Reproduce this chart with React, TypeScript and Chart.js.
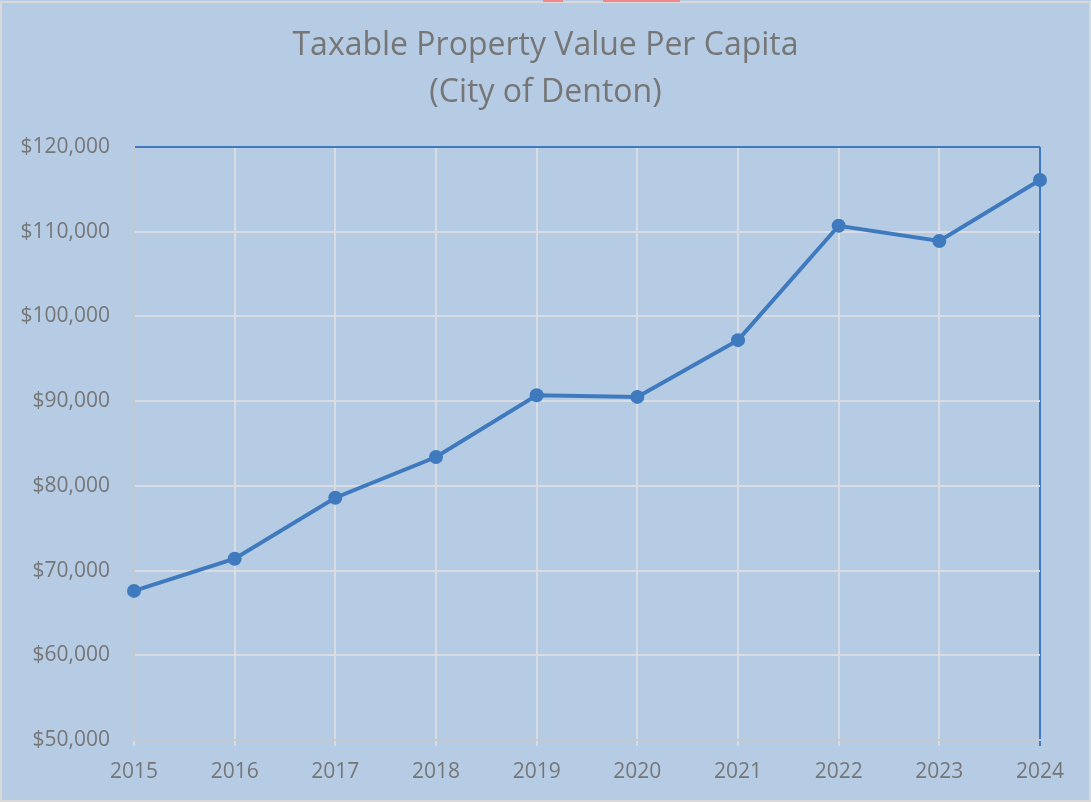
import React, { useEffect, useRef } from "react";
import { Chart, registerables } from "chart.js";

Chart.register(...registerables);

const years = ["2015", "2016", "2017", "2018", "2019", "2020", "2021", "2022", "2023", "2024"];
const valuePerCapita = [67600, 71400, 78600, 83400, 90700, 90500, 97200, 110700, 108900, 116100];
const titleLines = ["Taxable Property Value Per Capita", "(City of Denton)"];

const BG = "#b6cce4";
const LINE = "#3f7abf";
const GRID = "#d9dde3";
const TEXT = "#767676";
const FONT = "'Open Sans', 'Noto Sans', sans-serif";

const bgPlugin = {
  id: "bgPlugin",
  beforeDraw(chart: any) {
    const { ctx, width, height } = chart;
    ctx.save();
    ctx.fillStyle = BG;
    ctx.fillRect(0, 0, width, height);
    ctx.strokeStyle = "#d9d9d9";
    ctx.lineWidth = 2;
    ctx.strokeRect(1, 2, width - 2, height - 3);
    ctx.fillStyle = "#f08a8a";
    ctx.fillRect(543, 0, 20, 2);
    ctx.fillRect(603, 0, 77, 2);
    ctx.restore();
  },
};

const titlePlugin = {
  id: "titlePlugin",
  afterDraw(chart: any) {
    const { ctx, width } = chart;
    ctx.save();
    ctx.fillStyle = TEXT;
    ctx.font = `32px ${FONT}`;
    ctx.textAlign = "center";
    ctx.textBaseline = "middle";
    ctx.fillText(titleLines[0], width / 2, 46);
    ctx.fillText(titleLines[1], width / 2, 93);
    ctx.restore();
  },
};

export default function App() {
  const ref = useRef<HTMLCanvasElement | null>(null);
  useEffect(() => {
    document.body.style.margin = "0";
    const chart = new Chart(ref.current as HTMLCanvasElement, {
      type: "line",
      data: {
        labels: years,
        datasets: [
          {
            data: valuePerCapita,
            borderColor: LINE,
            backgroundColor: LINE,
            borderWidth: 4,
            pointRadius: 7,
            pointHoverRadius: 7,
            pointBackgroundColor: LINE,
            pointBorderWidth: 0,
            tension: 0,
          },
        ],
      },
      options: {
        responsive: false,
        animation: false,
        layout: { padding: { left: 0, right: 51, top: 147, bottom: 0 } },
        plugins: {
          legend: { display: false },
          tooltip: { enabled: false },
          title: { display: false },
        },
        scales: {
          x: {
            offset: false,
            grid: {
              color: (c: any) => (c.index === years.length - 1 ? LINE : GRID),
              lineWidth: 2,
              tickLength: 6,
              drawTicks: true,
            },
            border: { display: true, color: "#c4c9d0", width: 2 },
            ticks: { color: TEXT, font: { family: FONT, size: 21 }, padding: 13, maxRotation: 0 },
            afterFit: (s: any) => {
              s.height = 62;
            },
          },
          y: {
            min: 50000,
            max: 120000,
            grid: {
              color: (c: any) => (c.tick && c.tick.value === 120000 ? LINE : GRID),
              lineWidth: 2,
              drawTicks: false,
            },
            border: { display: true, color: "#c4c9d0", width: 2 },
            ticks: {
              stepSize: 10000,
              color: TEXT,
              padding: 24,
              font: { family: FONT, size: 21 },
              callback: (v: any) => "$" + Number(v).toLocaleString("en-US"),
            },
            afterFit: (s: any) => {
              s.width = 134;
            },
          },
        },
      },
      plugins: [bgPlugin, titlePlugin],
    });
    return () => chart.destroy();
  }, []);
  return (
    <div style={{ position: "absolute", left: 0, top: 0, width: 1091, height: 802 }}>
      <canvas ref={ref} width={1091} height={802} style={{ display: "block" }} />
    </div>
  );
}
